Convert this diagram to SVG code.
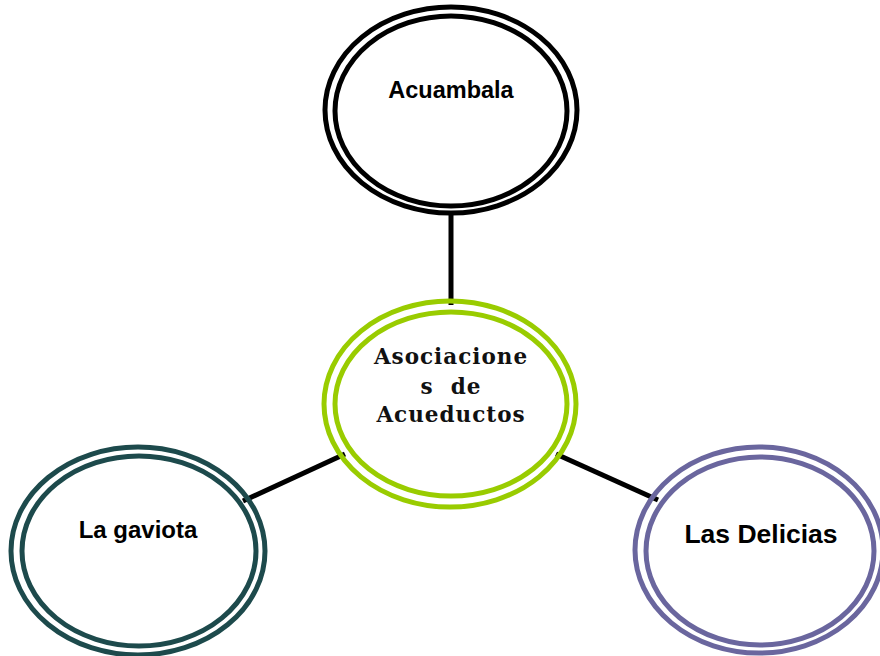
<svg xmlns="http://www.w3.org/2000/svg" width="880" height="656" viewBox="0 0 880 656">
<style>
.ring{fill:none;stroke-width:5}
.lbl{font-family:"Liberation Sans",Arial,sans-serif;font-weight:bold;fill:#000;text-anchor:middle}
.ctr{font-family:"DejaVu Serif","Liberation Serif",serif;font-weight:bold;fill:#111;text-anchor:middle;font-size:21.5px;letter-spacing:1px;white-space:pre}
.conn{stroke:#000;stroke-width:5;fill:none}
</style>
<rect width="880" height="656" fill="#fff"/>
<g id="connectors">
<line class="conn" x1="451" y1="212" x2="451" y2="305"/>
<line class="conn" x1="345" y1="454" x2="243" y2="501"/>
<line class="conn" x1="556" y1="454" x2="658" y2="500"/>
</g>
<g id="acuambala">
<ellipse class="ring" cx="451" cy="110" rx="126" ry="103" fill="#fff" stroke="#000"/>
<ellipse class="ring" cx="451" cy="111" rx="116" ry="95" stroke="#000"/>
<text class="lbl" x="451" y="98" font-size="23.5">Acuambala</text>
</g>
<g id="asociaciones">
<ellipse class="ring" cx="450" cy="404" rx="126" ry="103" fill="#fff" stroke="#99CC00"/>
<ellipse class="ring" cx="451" cy="404" rx="116" ry="92" stroke="#99CC00"/>
<text class="ctr" x="451" y="364">Asociacione</text>
<text class="ctr" x="451" y="394" xml:space="preserve">s  de</text>
<text class="ctr" x="451" y="422">Acueductos</text>
</g>
<g id="lagaviota">
<ellipse class="ring" cx="138" cy="551" rx="127" ry="104" fill="#fff" stroke="#1D4A4C"/>
<ellipse class="ring" cx="139" cy="551" rx="117" ry="95" stroke="#1D4A4C"/>
<text class="lbl" x="138" y="538" font-size="24">La gaviota</text>
</g>
<g id="lasdelicias">
<ellipse class="ring" cx="759" cy="550" rx="124" ry="103" fill="#fff" stroke="#6A669E"/>
<ellipse class="ring" cx="760" cy="551" rx="114" ry="94" stroke="#6A669E"/>
<text class="lbl" x="761" y="543" font-size="26.5">Las Delicias</text>
</g>
</svg>
